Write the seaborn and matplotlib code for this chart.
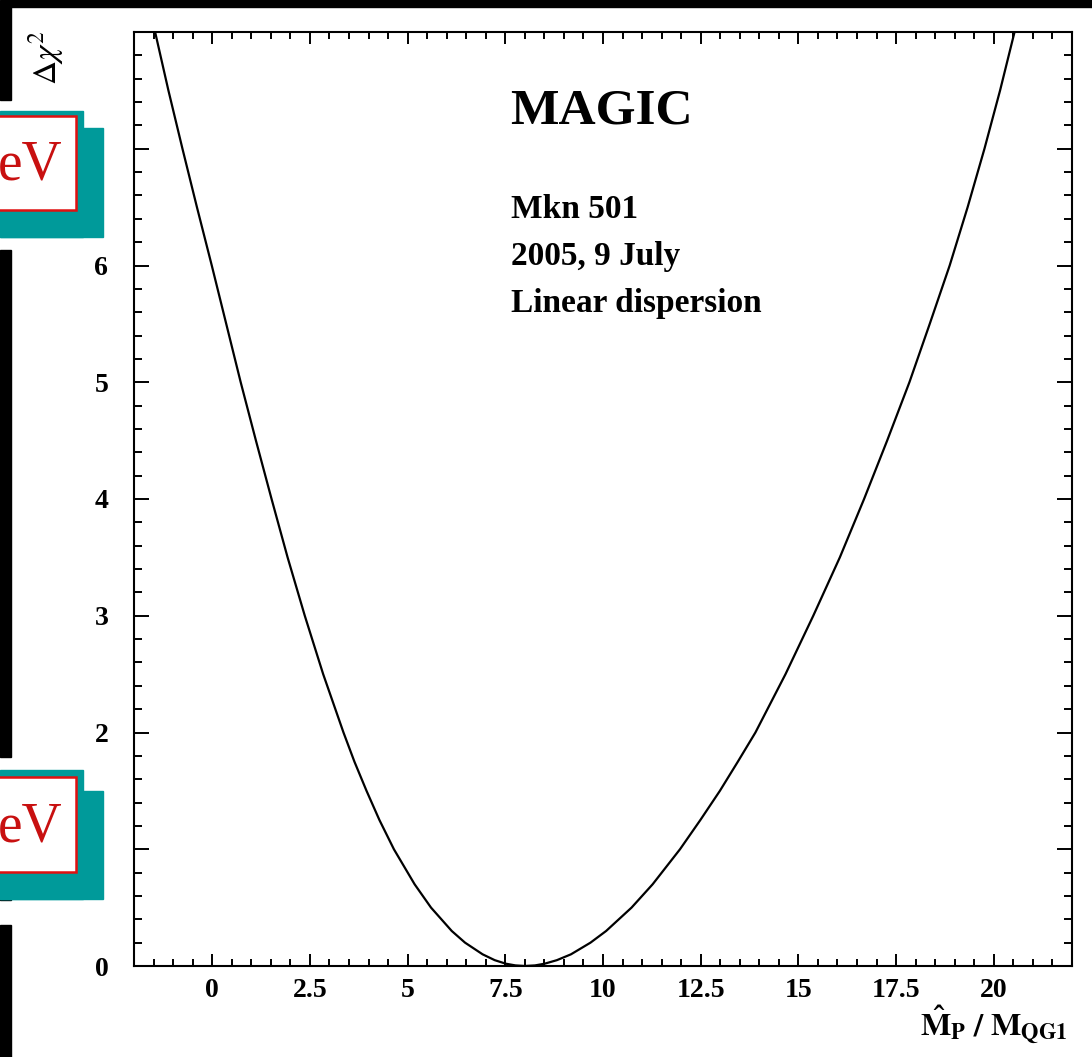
import matplotlib
matplotlib.use("Agg")
import matplotlib.pyplot as plt
import seaborn as sns
import pandas as pd
from matplotlib.patches import Rectangle
from matplotlib.ticker import FixedLocator, MultipleLocator

# Delta chi^2 scan versus the quantum-gravity scale (linear dispersion)
scale_left = [-1.46, -1.12, -0.76, -0.39, -0.01, 0.36, 0.73, 1.12, 1.52, 1.93,
              2.37, 2.84, 3.36, 3.64, 3.95, 4.28, 4.65, 5.18, 5.60, 6.13,
              6.47, 6.92, 7.23, 7.51, 7.76, 8.00]
dchi2_left = [8.0, 7.5, 7.0, 6.5, 6.0, 5.5, 5.0, 4.5, 4.0, 3.5,
              3.0, 2.5, 2.0, 1.75, 1.5, 1.25, 1.0, 0.7, 0.5, 0.3,
              0.2, 0.1, 0.05, 0.02, 0.005, 0.0]
scale_right = [8.26, 8.51, 8.82, 9.18, 9.68, 10.08, 10.73, 11.27, 11.97, 12.49,
               12.99, 13.45, 13.90, 14.67, 15.38, 16.06, 16.68, 17.27, 17.84, 18.36,
               18.87, 19.33, 19.76, 20.16, 20.53]
dchi2_right = [0.005, 0.02, 0.05, 0.1, 0.2, 0.3, 0.5, 0.7, 1.0, 1.25,
               1.5, 1.75, 2.0, 2.5, 3.0, 3.5, 4.0, 4.5, 5.0, 5.5,
               6.0, 6.5, 7.0, 7.5, 8.0]

x_ticks = [0, 2.5, 5, 7.5, 10, 12.5, 15, 17.5, 20]
x_tick_labels = ["0", "2.5", "5", "7.5", "10", "12.5", "15", "17.5", "20"]
# the labels at 1 and 7 sit behind the slide panels
y_ticks = [0, 1, 2, 3, 4, 5, 6, 7]
y_tick_labels = ["0", "", "2", "3", "4", "5", "6", ""]

info_title = "MAGIC"
info_lines = ["Mkn 501", "2005, 9 July", "Linear dispersion"]
panel_text = "eV"

scan = pd.DataFrame({
    "scale": scale_left + scale_right,
    "dchi2": dchi2_left + dchi2_right,
})

sns.set_style("ticks")
plt.rcParams["font.family"] = ["Liberation Serif", "DejaVu Serif"]
plt.rcParams["mathtext.fontset"] = "stix"
for key in ["text.color", "axes.labelcolor", "xtick.color", "ytick.color",
            "axes.edgecolor"]:
    plt.rcParams[key] = "black"

W, H = 1092, 1057
fig = plt.figure(figsize=(W / 100, H / 100), dpi=100)
fig.patch.set_facecolor("white")


def fx(px):
    return px / W


def fy(py):
    return 1 - py / H


def box(x0, y0, x1, y1, **kw):
    r = Rectangle((fx(x0), fy(y1)), fx(x1) - fx(x0), fy(y0) - fy(y1),
                  transform=fig.transFigure, **kw)
    fig.add_artist(r)
    return r


ax = fig.add_axes([fx(134), fy(966), fx(1072) - fx(134), fy(32) - fy(966)])
ax.set_facecolor("white")

sns.lineplot(data=scan, x="scale", y="dchi2", ax=ax, color="black",
             linewidth=1.6, sort=True, estimator=None)

ax.set_xlim(-2, 22)
ax.set_ylim(0, 8)
ax.xaxis.set_major_locator(FixedLocator(x_ticks))
ax.set_xticklabels(x_tick_labels)
ax.xaxis.set_minor_locator(MultipleLocator(0.5))
ax.yaxis.set_major_locator(FixedLocator(y_ticks))
ax.set_yticklabels(y_tick_labels)
ax.yaxis.set_minor_locator(MultipleLocator(0.2))
ax.set_xlabel("")
ax.set_ylabel("")

for side in ["left", "right", "top", "bottom"]:
    ax.spines[side].set_visible(True)
    ax.spines[side].set_linewidth(1.5)
    ax.spines[side].set_color("black")

ax.tick_params(axis="both", which="both", direction="in", top=True, right=True,
               color="black", width=1.4)
ax.tick_params(axis="x", which="major", length=8.6, pad=8.5, labelsize=20)
ax.tick_params(axis="x", which="minor", length=5)
ax.tick_params(axis="y", which="major", length=10.5, pad=18.5, labelsize=20)
ax.tick_params(axis="y", which="minor", length=5.5)
for lab in ax.get_xticklabels() + ax.get_yticklabels():
    lab.set_fontweight("bold")
    lab.set_color("black")

# axis titles
fig.text(fx(46), fy(30), r"$\Delta\chi^2$", rotation=90, ha="center", va="top",
         fontsize=24, color="black")
fig.text(fx(1068), fy(1035), r"$\mathbf{\hat{M}_P\ /\ M_{QG1}}$", ha="right",
         va="baseline", fontsize=23, color="black")

# info block
fig.text(fx(510), fy(124), info_title, fontsize=37, fontweight="bold",
         va="baseline", color="black")
for i, line in enumerate(info_lines):
    fig.text(fx(511), fy(218 + 47 * i), line, fontsize=24, fontweight="bold",
             va="baseline", color="black")

# slide frame around the plot
black = "black"
box(0, 0, W, 7, color=black, zorder=5)
box(0, 7, 11, 100, color=black, zorder=5)
box(0, 250, 11, 757, color=black, zorder=5)
box(0, 898, 11, 900, color=black, zorder=5)
box(0, 925, 11, H, color=black, zorder=5)

teal = "#009a9a"
red = "#e01010"
for top, bottom, step, inner in [(111, 237, 128, (116, 210)), (770, 899, 791, (777, 872))]:
    box(0, top, 83, bottom, color=teal, zorder=6)
    box(0, step, 103, bottom, color=teal, zorder=6)
    box(-6, inner[0], 76, inner[1], facecolor="white", edgecolor=red,
        linewidth=1.8, zorder=7)
    fig.text(fx(63), fy(inner[0] + 64), panel_text, color="#c81010", fontsize=40,
             ha="right", va="baseline", zorder=8)

fig.savefig("out.png", dpi=100, facecolor="white")
